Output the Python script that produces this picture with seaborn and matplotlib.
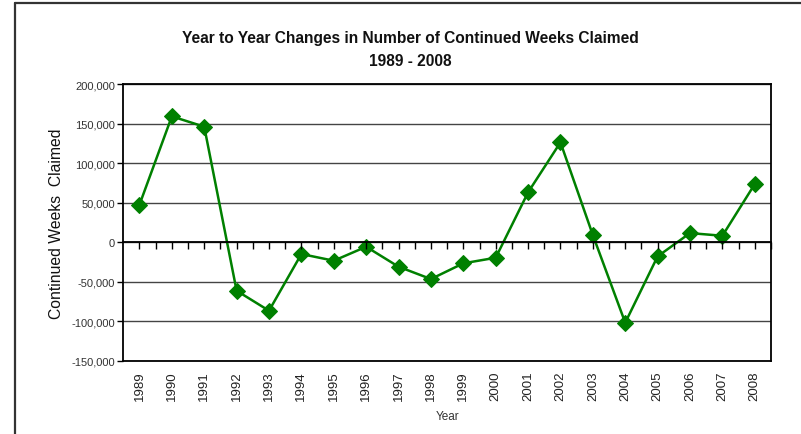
import matplotlib
matplotlib.use("Agg")
import matplotlib.pyplot as plt
from matplotlib.lines import Line2D
from matplotlib.ticker import FuncFormatter, FixedLocator
import numpy as np
import pandas as pd
import seaborn as sns

years = [1989, 1990, 1991, 1992, 1993, 1994, 1995, 1996, 1997, 1998,
         1999, 2000, 2001, 2002, 2003, 2004, 2005, 2006, 2007, 2008]
changes = [47500, 159400, 146300, -61400, -86700, -14900, -23400, -5700, -31000, -46600,
           -26700, -19600, 63200, 126500, 9100, -101900, -17900, 11600, 8200, 73700]
y_ticks = [-150000, -100000, -50000, 0, 50000, 100000, 150000, 200000]
title_line1 = "Year to Year Changes in Number of Continued Weeks Claimed"
title_line2 = "1989 - 2008"
y_label = "Continued Weeks  Claimed"
x_label = "Year"

sns.set_theme(style="white")
FONT = ["Liberation Sans", "DejaVu Sans"]
plt.rcParams["font.family"] = FONT

fig = plt.figure(figsize=(8.01, 4.35), dpi=100)
ax = fig.add_axes([0.1539, 0.1685, 0.9625 - 0.1539, 0.8039 - 0.1685])

df = pd.DataFrame({"Year": years, "Change": changes})
sns.lineplot(data=df, x="Year", y="Change", ax=ax, color="#008000", linewidth=1.8,
             marker="D", markersize=8.5, markeredgecolor="#008000", zorder=5)

ax.set_xlim(years[0] - 0.5, years[-1] + 0.5)
ax.set_ylim(y_ticks[0], y_ticks[-1])
ax.set_yticks(y_ticks)
ax.yaxis.set_major_formatter(FuncFormatter(lambda v, p: f"{v:,.0f}"))
ax.set_xticks(years)
ax.set_xticklabels([str(y) for y in years], rotation=90, fontsize=9.5, color="#222222")
ax.tick_params(axis="x", length=0, pad=7)
ax.tick_params(axis="y", direction="out", length=4, width=1, color="black",
               labelsize=8, labelcolor="#333333", pad=2, left=True)
ax.yaxis.grid(True, color="#444444", linewidth=1)
ax.xaxis.grid(False)
for s in ax.spines.values():
    s.set_color("black")
    s.set_linewidth(1.3)

ax.set_xlabel(x_label, fontsize=8.5, color="#333333", labelpad=7)
ax.set_ylabel(y_label, fontsize=11.3, color="#111111", labelpad=5)

# zero axis line with tick marks at every half category
ax2 = ax.twiny()
ax2.set_xlim(ax.get_xlim())
for name, s in ax2.spines.items():
    s.set_visible(name == "bottom")
ax2.spines["bottom"].set_position(("data", 0))
ax2.spines["bottom"].set_color("black")
ax2.spines["bottom"].set_linewidth(1.3)
ax2.xaxis.set_ticks_position("bottom")
half_ticks = [y + d for y in years for d in (0, 0.5)]
ax2.xaxis.set_major_locator(FixedLocator(half_ticks))
ax2.tick_params(axis="x", direction="out", length=5, width=1, color="black",
                labelbottom=False, labeltop=False, top=False, bottom=True)
ax2.grid(False)

fig.text(0.512, 1 - 38 / 435, title_line1, ha="center", va="center", fontsize=11.2,
         fontweight="bold", color="#111111")
fig.text(0.512, 1 - 62 / 435, title_line2, ha="center", va="center", fontsize=11.2,
         fontweight="bold", color="#111111")

# outer chart border (left and top)
fig.add_artist(Line2D([15 / 801, 15 / 801], [0, 1 - 4 / 435], transform=fig.transFigure,
                      color="#333333", linewidth=1.6))
fig.add_artist(Line2D([15 / 801, 1], [1 - 4 / 435, 1 - 4 / 435], transform=fig.transFigure,
                      color="#333333", linewidth=1.6))

fig.savefig("out.png", dpi=100)
